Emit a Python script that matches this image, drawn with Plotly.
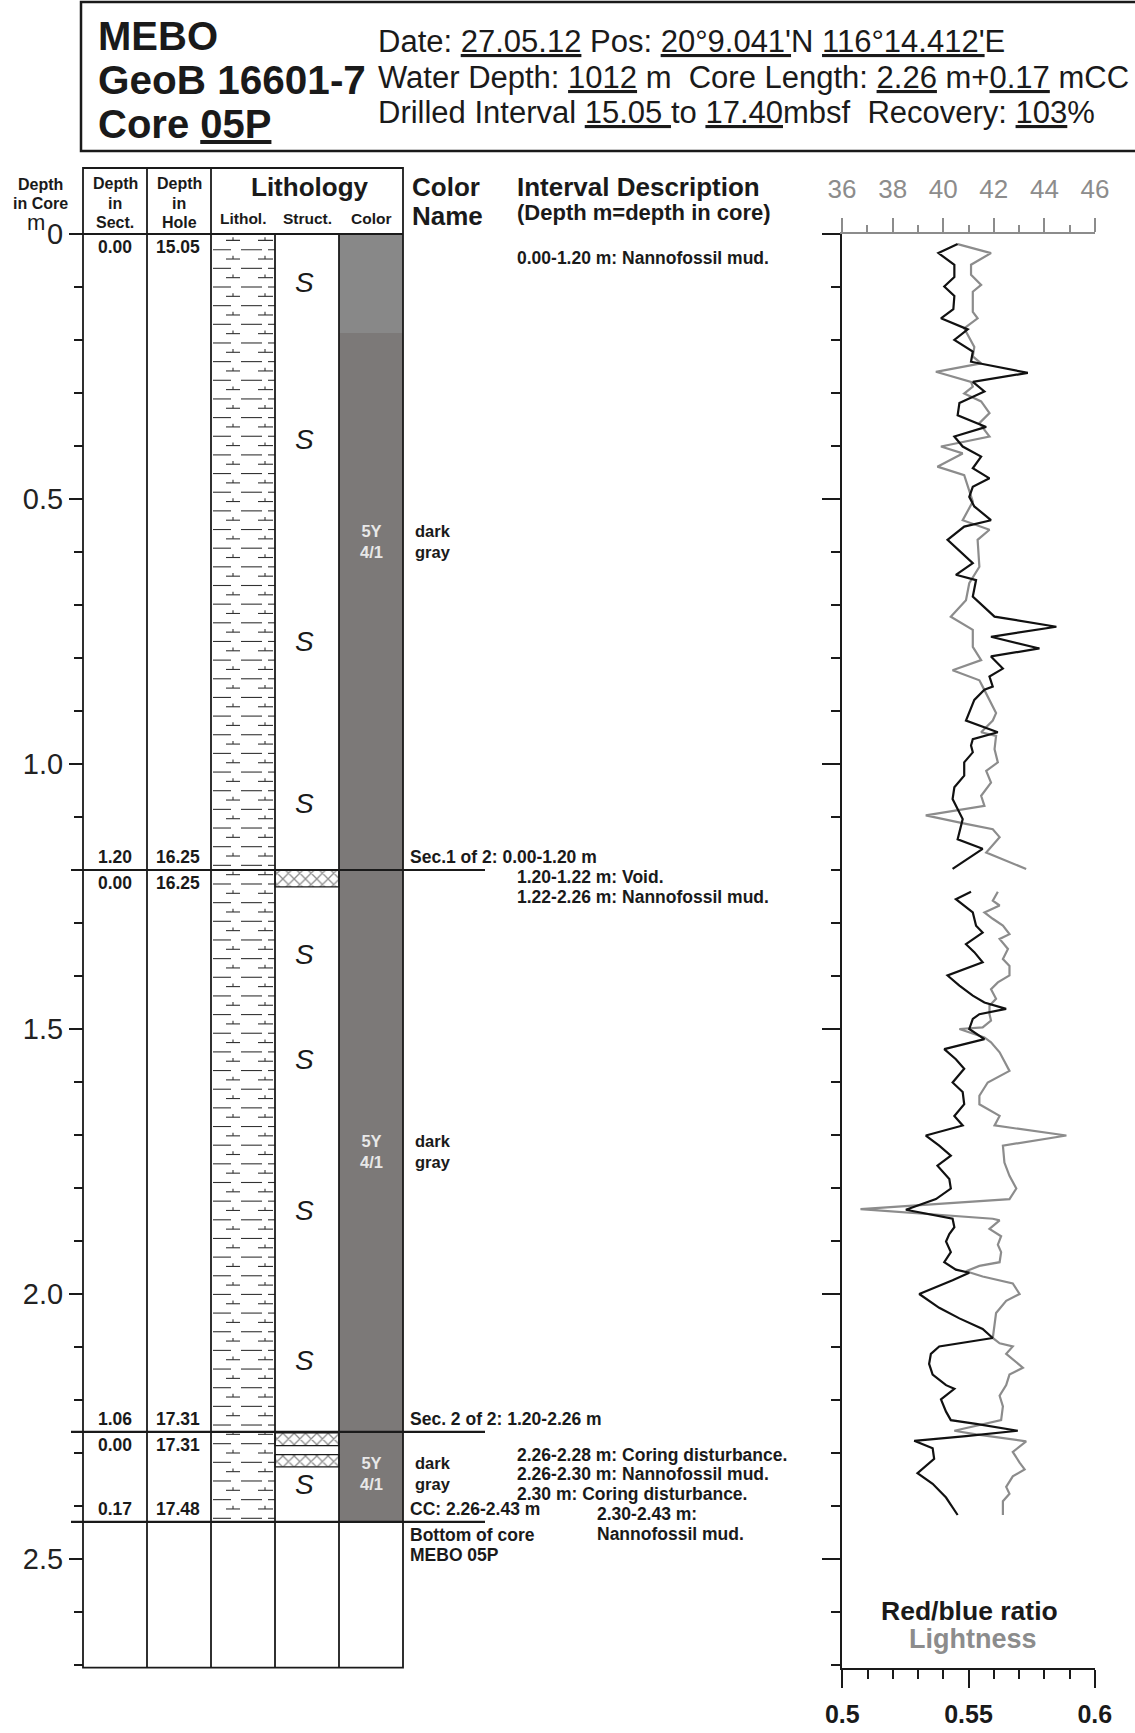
import plotly.graph_objects as go

W, H = 1135, 1733
FONT = "Liberation Sans, Arial, sans-serif"
INK = "#1a1a1a"
GREY = "#8c8c8c"

# ---------------- data: colour scan curves (depth in core, m) ----------------
rb_depth_sec1 = [0.019, 0.036, 0.058, 0.081, 0.099, 0.117, 0.142, 0.159, 0.180, 0.200,
                 0.222, 0.241, 0.262, 0.279, 0.297, 0.319, 0.342, 0.364, 0.382, 0.401,
                 0.420, 0.442, 0.461, 0.477, 0.496, 0.514, 0.540, 0.552, 0.577, 0.621,
                 0.643, 0.653, 0.684, 0.722, 0.741, 0.760, 0.782, 0.797, 0.820, 0.835,
                 0.854, 0.860, 0.879, 0.918, 0.940, 0.953, 0.965, 0.978, 0.997, 1.022,
                 1.044, 1.066, 1.104, 1.142, 1.160, 1.198]
rb_sec1 = [0.5457, 0.5381, 0.5444, 0.5444, 0.5404, 0.5444, 0.5440, 0.5391, 0.5497, 0.5444,
           0.5517, 0.5510, 0.5735, 0.5517, 0.5563, 0.5464, 0.5457, 0.5570, 0.5444, 0.5477,
           0.5550, 0.5517, 0.5583, 0.5517, 0.5503, 0.5523, 0.5589, 0.5483, 0.5417, 0.5517,
           0.5450, 0.5530, 0.5517, 0.5603, 0.5848, 0.5589, 0.5781, 0.5589, 0.5636, 0.5583,
           0.5596, 0.5563, 0.5523, 0.5490, 0.5616, 0.5517, 0.5510, 0.5517, 0.5483, 0.5483,
           0.5444, 0.5437, 0.5477, 0.5457, 0.5556, 0.5437]
rb_depth_sec2 = [1.241, 1.255, 1.280, 1.305, 1.318, 1.340, 1.355, 1.374, 1.399, 1.418,
                 1.437, 1.450, 1.462, 1.472, 1.481, 1.500, 1.519, 1.538, 1.557, 1.575,
                 1.601, 1.619, 1.642, 1.664, 1.682, 1.701, 1.720, 1.739, 1.758, 1.783,
                 1.801, 1.821, 1.841, 1.858, 1.874, 1.887, 1.901, 1.921, 1.940, 1.954,
                 1.960, 1.974, 2.000, 2.026, 2.046, 2.066, 2.083, 2.099, 2.113, 2.132,
                 2.152, 2.172, 2.179, 2.199, 2.222, 2.238, 2.245, 2.258, 2.268, 2.277,
                 2.291, 2.311, 2.338, 2.358, 2.384, 2.417]
rb_sec2 = [0.5510, 0.5450, 0.5517, 0.5530, 0.5556, 0.5490, 0.5523, 0.5556, 0.5417, 0.5464,
           0.5517, 0.5563, 0.5649, 0.5543, 0.5517, 0.5503, 0.5563, 0.5404, 0.5450, 0.5483,
           0.5437, 0.5477, 0.5483, 0.5444, 0.5477, 0.5331, 0.5384, 0.5430, 0.5377, 0.5424,
           0.5430, 0.5371, 0.5252, 0.5437, 0.5444, 0.5424, 0.5411, 0.5430, 0.5404, 0.5450,
           0.5503, 0.5437, 0.5305, 0.5384, 0.5464, 0.5556, 0.5596, 0.5384, 0.5351, 0.5344,
           0.5358, 0.5411, 0.5444, 0.5391, 0.5411, 0.5430, 0.5530, 0.5695, 0.5490, 0.5285,
           0.5358, 0.5364, 0.5298, 0.5358, 0.5411, 0.5457]

lt_depth_sec1 = [0.019, 0.036, 0.058, 0.077, 0.096, 0.109, 0.131, 0.147, 0.159, 0.178,
                 0.213, 0.231, 0.244, 0.260, 0.279, 0.288, 0.301, 0.316, 0.338, 0.357,
                 0.382, 0.401, 0.414, 0.439, 0.455, 0.483, 0.505, 0.540, 0.558, 0.577,
                 0.628, 0.659, 0.691, 0.722, 0.747, 0.779, 0.804, 0.823, 0.842, 0.854,
                 0.904, 0.918, 0.940, 0.947, 0.972, 0.997, 1.013, 1.035, 1.060, 1.079,
                 1.097, 1.113, 1.123, 1.138, 1.167, 1.198]
lt_sec1 = [40.57, 41.89, 41.10, 41.10, 41.50, 41.17, 41.17, 41.17, 41.36, 40.83,
           41.23, 41.17, 41.50, 39.71, 41.10, 41.17, 40.83, 41.50, 41.83, 41.43,
           41.83, 39.91, 40.77, 39.77, 40.83, 41.03, 41.17, 40.77, 41.83, 41.36,
           41.43, 41.03, 40.90, 40.30, 41.17, 41.17, 41.50, 40.37, 41.43, 41.56,
           42.09, 41.96, 41.50, 42.09, 42.03, 42.16, 41.70, 41.89, 41.50, 41.63,
           39.31, 40.90, 41.96, 42.23, 41.70, 43.28]
lt_depth_sec2 = [1.241, 1.258, 1.267, 1.280, 1.292, 1.305, 1.321, 1.330, 1.349, 1.368,
                 1.381, 1.399, 1.412, 1.425, 1.443, 1.456, 1.472, 1.484, 1.497, 1.500,
                 1.516, 1.525, 1.544, 1.579, 1.601, 1.626, 1.642, 1.664, 1.682, 1.701,
                 1.720, 1.752, 1.777, 1.801, 1.821, 1.840, 1.858, 1.861, 1.877, 1.891,
                 1.907, 1.921, 1.940, 1.947, 1.957, 1.967, 1.980, 2.000, 2.013, 2.036,
                 2.083, 2.093, 2.099, 2.113, 2.139, 2.152, 2.172, 2.192, 2.212, 2.238,
                 2.258, 2.265, 2.278, 2.298, 2.318, 2.331, 2.344, 2.364, 2.377, 2.391,
                 2.417]
lt_sec2 = [42.16, 41.96, 42.23, 41.63, 41.96, 42.36, 42.62, 42.23, 42.56, 42.36,
           42.62, 42.62, 42.16, 41.89, 42.09, 41.83, 41.83, 41.89, 41.56, 40.64,
           41.63, 41.89, 42.23, 42.62, 41.76, 41.43, 41.43, 42.23, 42.03, 44.87,
           42.36, 42.42, 42.62, 42.89, 42.62, 36.73, 41.96, 42.23, 41.83, 42.29,
           42.16, 42.29, 42.23, 41.43, 40.90, 41.56, 42.75, 43.02, 42.49, 42.09,
           41.96, 42.23, 42.75, 42.49, 43.15, 42.62, 42.49, 42.23, 42.36, 42.29,
           40.44, 41.30, 43.28, 42.75, 43.02, 43.22, 42.75, 42.49, 42.62, 42.36,
           42.36]

# ---------------- axis ticks ----------------
lightness_range = [36, 46]
ratio_range = [0.5, 0.6]
ratio_ticks = [0.5, 0.55, 0.6]
ratio_tick_text = ["0.5", "0.55", "0.6"]
depth_ticks = [0, 0.5, 1.0, 1.5, 2.0, 2.5]
depth_tick_text = ["0", "0.5", "1.0", "1.5", "2.0", "2.5"]
depth_max = 2.705

# ---------------- core description data ----------------
core_bottom = 2.43
section_bounds = [1.20, 2.26, 2.43]
section_names = ["Sec.1 of 2", "Sec. 2 of 2", "CC"]
section_ranges = [": 0.00-1.20 m", ": 1.20-2.26 m", ": 2.26-2.43 m"]
sect_depth_above = ["1.20", "1.06", "0.17"]
hole_depth_above = ["16.25", "17.31", "17.48"]
sect_depth_below = ["0.00", "0.00"]
hole_depth_below = ["16.25", "17.31"]
top_sect, top_hole = "0.00", "15.05"

color_top = [0.0, 0.187]
color_bot = [0.187, 2.43]
color_fill = ["#888888", "#7c7978"]

disturb_top = [1.200, 2.262, 2.303]
disturb_bot = [1.232, 2.286, 2.326]

struct_s_depths = [0.092, 0.387, 0.768, 1.074, 1.360, 1.557, 1.842, 2.125, 2.360]

munsell_depths = [0.58, 1.732, 2.338]
munsell_code = "5Y<br>4/1"
color_name = "dark<br>gray"

desc_depths = [0.045, 1.213, 1.250, 2.304, 2.340, 2.378]
desc_texts = ["0.00-1.20 m: Nannofossil mud.", "1.20-1.22 m: Void.",
              "1.22-2.26 m: Nannofossil mud.", "2.26-2.28 m: Coring disturbance.",
              "2.26-2.30 m: Nannofossil mud.", "2.30 m: Coring disturbance."]
desc2_depths = [2.415, 2.452]
desc2_texts = ["2.30-2.43 m:", "Nannofossil mud."]
bottom_note_depths = [2.455, 2.492]
bottom_note_texts = ["Bottom of core", "MEBO 05P"]

# ---------------- layout geometry (pixels) ----------------
D0_PX = 234.0
PX_PER_M = 530.0
Y_BOT_PX = D0_PX + depth_max * PX_PER_M
COLS = [83, 147, 211, 275, 339, 403]
HEAD_TOP = 168
PLOT_X0, PLOT_X1 = 842, 1095
DESC_SIZE = 17.5


def py(p):
    return 1 - p / H


fig = go.Figure()

# lithology symbol texture (nannofossil mud)
lith_x, lith_y = [], []
half = 0.0176
k = 0
d = 0.012
while d < core_bottom - 0.004:
    if k % 2 == 0:
        for a, b, t in [(226, 240, 233), (258, 273, 265)]:
            lith_x += [a, b, None, t, t, None]
            lith_y += [d, d, None, d, d - 0.006, None]
    else:
        for a, b in [(213, 231), (241, 262), (268, 275)]:
            lith_x += [a, b, None]
            lith_y += [d, d, None]
    d += half
    k += 1
fig.add_trace(go.Scatter(x=lith_x, y=lith_y, mode="lines", xaxis="x", yaxis="y",
                         line=dict(color="#333333", width=1.1), hoverinfo="skip",
                         showlegend=False))

# disturbance / void hatch boxes in structure column
for t, b in zip(disturb_top, disturb_bot):
    fig.add_trace(go.Scatter(x=[COLS[3], COLS[4], COLS[4], COLS[3], COLS[3]],
                             y=[t, t, b, b, t], mode="lines", fill="toself",
                             fillcolor="white",
                             fillpattern=dict(shape="x", size=8, solidity=0.3,
                                              fgcolor=INK, bgcolor="white"),
                             line=dict(color=INK, width=1.3), xaxis="x", yaxis="y",
                             hoverinfo="skip", showlegend=False))

# colour curves
for dd, vv in [(lt_depth_sec1, lt_sec1), (lt_depth_sec2, lt_sec2)]:
    fig.add_trace(go.Scatter(x=vv, y=dd, mode="lines", xaxis="x2", yaxis="y2",
                             line=dict(color=GREY, width=2.2), showlegend=False,
                             name="Lightness"))
for dd, vv in [(rb_depth_sec1, rb_sec1), (rb_depth_sec2, rb_sec2)]:
    fig.add_trace(go.Scatter(x=vv, y=dd, mode="lines", xaxis="x3", yaxis="y2",
                             line=dict(color="#111111", width=2.2), showlegend=False,
                             name="Red/blue ratio"))

shapes = []
for t, b, c in zip(color_top, color_bot, color_fill):
    shapes.append(dict(type="rect", xref="x", yref="y", x0=COLS[4], x1=COLS[5], y0=t, y1=b,
                       fillcolor=c, line=dict(width=0), layer="below"))
shapes.append(dict(type="rect", xref="x", yref="paper", x0=81, x1=1145, y0=py(151), y1=py(2),
                   line=dict(color=INK, width=2.5)))
shapes.append(dict(type="rect", xref="x", yref="paper", x0=COLS[0], x1=COLS[5],
                   y0=py(Y_BOT_PX), y1=py(HEAD_TOP), line=dict(color=INK, width=1.8)))
shapes.append(dict(type="line", xref="x", yref="paper", x0=COLS[0], x1=COLS[5],
                   y0=py(D0_PX), y1=py(D0_PX), line=dict(color=INK, width=1.8)))
for cx in COLS[1:3]:
    shapes.append(dict(type="line", xref="x", yref="paper", x0=cx, x1=cx,
                       y0=py(Y_BOT_PX), y1=py(HEAD_TOP), line=dict(color=INK, width=1.8)))
for cx in COLS[3:5]:
    shapes.append(dict(type="line", xref="x", yref="paper", x0=cx, x1=cx,
                       y0=py(Y_BOT_PX), y1=py(D0_PX), line=dict(color=INK, width=1.8)))
for sb in section_bounds:
    shapes.append(dict(type="line", xref="x", yref="y", x0=71, x1=485, y0=sb, y1=sb,
                       line=dict(color=INK, width=2.2)))

ann = []


def A(x, y, text, size, bold=False, color=INK, xanchor="left", yanchor="middle",
      yref="paper", italic=False):
    if bold:
        text = "<b>" + text.replace("<br>", "</b><br><b>") + "</b>"
    if italic:
        text = "<i>" + text + "</i>"
    ann.append(dict(x=x, y=(py(y) if yref == "paper" else y), xref="x", yref=yref,
                    text=text, showarrow=False, xanchor=xanchor, yanchor=yanchor,
                    font=dict(family=FONT, size=size, color=color), borderpad=0))


# header block
A(97, 36, "MEBO", 40, bold=True)
A(97, 80, "GeoB 16601-7", 40.5, bold=True)
A(97, 124, "Core <u>05P</u>", 40, bold=True)
A(377, 41, "Date: <u>27.05.12</u> Pos: <u>20°9.041'</u>N <u>116°14.412'</u>E", 31)
A(377, 77, "Water Depth: <u>1012</u> m\u00a0 Core Length: <u>2.26</u> m+<u>0.17</u> mCC", 31)
A(377, 113, "Drilled Interval <u>15.05\u00a0</u>to <u>17.40</u>mbsf\u00a0 Recovery: <u>103</u>%", 31)

# column headers
A(40, 185, "Depth", 16, bold=True, xanchor="center")
A(40, 203, "in Core", 16, bold=True, xanchor="center")
A(36, 222, "m", 22, xanchor="center")
for cx, word in [((COLS[0] + COLS[1]) / 2, "Sect."), ((COLS[1] + COLS[2]) / 2, "Hole")]:
    A(cx, 184, "Depth", 16, bold=True, xanchor="center")
    A(cx, 203, "in", 16, bold=True, xanchor="center")
    A(cx, 222, word, 16, bold=True, xanchor="center")
A((COLS[2] + COLS[5]) / 2 + 3, 187, "Lithology", 26, bold=True, xanchor="center")
A((COLS[2] + COLS[3]) / 2, 218, "Lithol.", 15.5, bold=True, xanchor="center")
A((COLS[3] + COLS[4]) / 2, 218, "Struct.", 15.5, bold=True, xanchor="center")
A((COLS[4] + COLS[5]) / 2, 218, "Color", 15.5, bold=True, xanchor="center")
A(411, 187, "Color", 26, bold=True)
A(411, 216, "Name", 26, bold=True)
A(516, 187, "Interval Description", 26, bold=True)
A(516, 213, "(Depth m=depth in core)", 22, bold=True)

c1 = (COLS[0] + COLS[1]) / 2
c2 = (COLS[1] + COLS[2]) / 2 - 1
A(c1, 0.004, top_sect, 17.5, bold=True, xanchor="center", yanchor="top", yref="y")
A(c2, 0.004, top_hole, 17.5, bold=True, xanchor="center", yanchor="top", yref="y")
for sb, s, h in zip(section_bounds, sect_depth_above, hole_depth_above):
    A(c1, sb - 0.003, s, 17.5, bold=True, xanchor="center", yanchor="bottom", yref="y")
    A(c2, sb - 0.003, h, 17.5, bold=True, xanchor="center", yanchor="bottom", yref="y")
for sb, s, h in zip(section_bounds[:2], sect_depth_below, hole_depth_below):
    A(c1, sb + 0.004, s, 17.5, bold=True, xanchor="center", yanchor="top", yref="y")
    A(c2, sb + 0.004, h, 17.5, bold=True, xanchor="center", yanchor="top", yref="y")

for sd in struct_s_depths:
    A(304, sd, "S", 28, italic=True, xanchor="center", yref="y")

for md in munsell_depths:
    A((COLS[4] + COLS[5]) / 2, md, munsell_code, 16.5, bold=True, color="#e8e8e8",
      xanchor="center", yref="y")
    A(414, md, color_name, 16.5, bold=True, yref="y")

for sb, nm, rg in zip(section_bounds, section_names, section_ranges):
    A(409, sb - 0.004, nm + rg, DESC_SIZE, bold=True, yanchor="bottom", yref="y")

for dd, tx in zip(desc_depths, desc_texts):
    A(516, dd, tx, DESC_SIZE, bold=True, yref="y")
for dd, tx in zip(desc2_depths, desc2_texts):
    A(596, dd, tx, DESC_SIZE, bold=True, yref="y")
for dd, tx in zip(bottom_note_depths, bottom_note_texts):
    A(409, dd, tx, DESC_SIZE, bold=True, yref="y")

A(969, 1611, "Red/blue ratio", 26.5, bold=True, xanchor="center")
A(973, 1639, "Lightness", 27, bold=True, color=GREY, xanchor="center")

ydom = [py(Y_BOT_PX), py(D0_PX)]
xdom = [PLOT_X0 / W, PLOT_X1 / W]

fig.update_layout(
    width=W, height=H, autosize=False,
    margin=dict(l=0, r=0, t=0, b=0, pad=0, autoexpand=False),
    paper_bgcolor="white", plot_bgcolor="rgba(0,0,0,0)", showlegend=False,
    shapes=shapes, annotations=ann,
    xaxis=dict(domain=[0, 1], range=[0, W], visible=False, anchor="y", fixedrange=True,
               automargin=False),
    yaxis=dict(domain=ydom, range=[depth_max, 0], anchor="free", position=COLS[0] / W,
               automargin=False,
               showline=False, showgrid=False, zeroline=False, ticks="outside",
               tickmode="array", tickvals=depth_ticks, ticktext=depth_tick_text,
               ticklen=14, tickwidth=2, tickcolor=INK,
               tickfont=dict(family=FONT, size=29, color="#222222"),
               minor=dict(tickmode="linear", tick0=0, dtick=0.1, ticklen=9, tickwidth=2,
                          tickcolor=INK, ticks="outside")),
    xaxis2=dict(domain=xdom, range=[lightness_range[0] - 0.001, lightness_range[1] + 0.001],
                anchor="y2", side="top", showline=True, linecolor=GREY, linewidth=2,
                automargin=False,
                showgrid=False, zeroline=False, ticks="outside", tick0=36, dtick=2,
                ticklen=14, tickwidth=2, tickcolor=GREY, ticklabelstandoff=10,
                tickfont=dict(family=FONT, size=26, color=GREY),
                minor=dict(tick0=36, dtick=1, ticklen=7, tickwidth=2, tickcolor=GREY,
                           ticks="outside")),
    xaxis3=dict(domain=xdom, range=[ratio_range[0] - 0.0001, ratio_range[1] + 0.0001],
                anchor="y2", side="bottom", overlaying="x2", showline=True, linecolor=INK,
                automargin=False,
                linewidth=2.5, showgrid=False, zeroline=False, ticks="outside",
                tickmode="array", tickvals=ratio_ticks,
                ticktext=["<b>" + t + "</b>" for t in ratio_tick_text],
                ticklen=18, tickwidth=2, tickcolor=INK, ticklabelstandoff=5,
                tickfont=dict(family=FONT, size=25, color=INK),
                minor=dict(tickmode="linear", tick0=0.5, dtick=0.01, ticklen=9, tickwidth=2,
                           tickcolor=INK, ticks="outside")),
    yaxis2=dict(domain=ydom, range=[depth_max, 0], anchor="x2", side="left", showline=True,
                automargin=False,
                linecolor=INK, linewidth=2.5, showgrid=False, zeroline=False,
                ticks="outside", tick0=0, dtick=0.5, ticklen=18, tickwidth=2, tickcolor=INK,
                showticklabels=False,
                minor=dict(tick0=0, dtick=0.1, ticklen=9, tickwidth=2, tickcolor=INK,
                           ticks="outside")),
)

fig.write_html("out.html",
               config={"displayModeBar": False, "staticPlot": True},
               post_script="document.body.style.margin='0';document.body.style.padding='0';"
                           "document.documentElement.style.overflow='hidden';")
